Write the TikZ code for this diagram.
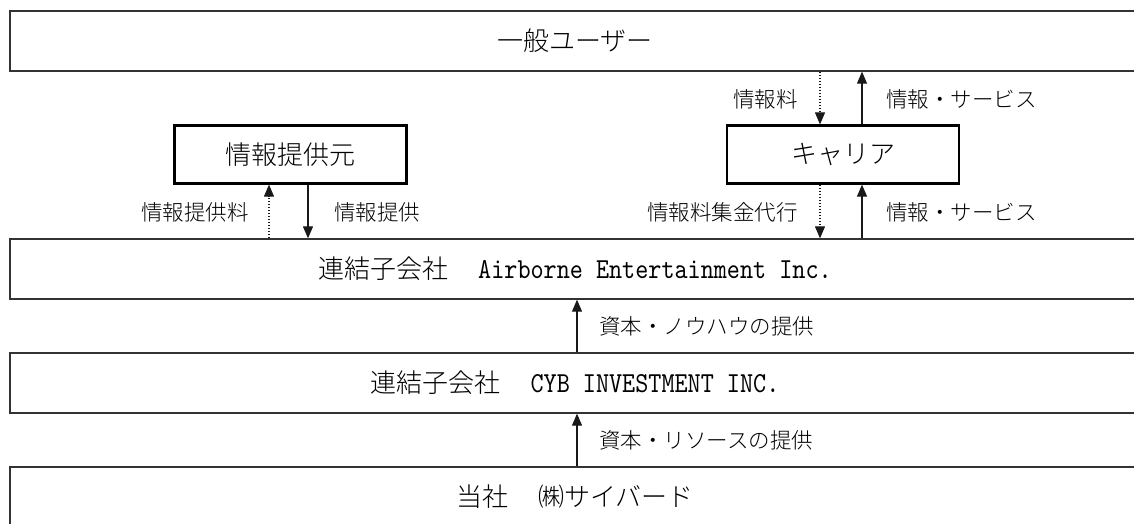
\documentclass[tikz,border=0pt]{standalone}
\usepackage{fontspec}
\setmainfont{Noto Sans CJK JP}[UprightFont=* Light]
\newfontfamily\lat{lmmono10-regular.otf}[FakeStretch=0.86]
\usetikzlibrary{arrows.meta,calc}
\begin{document}
\begin{tikzpicture}[x=1pt,y=-1pt,
  wide/.style={draw=black!80, line width=1.3pt, minimum width=1130pt, minimum height=60pt, inner sep=0pt, font=\fontsize{26}{30}\selectfont},
  small/.style={draw=black, line width=2.2pt, minimum width=232pt, minimum height=58pt, inner sep=0pt, font=\fontsize{26}{30}\selectfont},
  lbl/.style={inner sep=0pt, font=\fontsize{21.5}{24}\selectfont},
  conn/.style={line width=1.1pt, draw=black!90, -{Triangle[width=10pt,length=12pt]}},
  dotconn/.style={conn, dash pattern=on 1.5pt off 1.5pt}
]
\useasboundingbox (0,0) rectangle (1134,523);
\node[wide] (user) at (575,41) {一般ユーザー};
\node[small] (info) at (290.5,154.5) {情報提供元};
\node[small] (carrier) at (843,154.5) {キャリア};
\node[wide] (ab) at (575,269) {連結子会社\hspace{30pt}{\fontsize{29}{30}\selectfont\lat Airborne Entertainment Inc.}};
\node[wide] (cyb) at (575,383) {連結子会社\hspace{30pt}{\fontsize{29}{30}\selectfont\lat CYB INVESTMENT INC.}};
\node[wide] (self) at (575,497) {当社\hspace{30pt}㈱サイバード};
\coordinate (xa) at (269,0);
\coordinate (xb) at (308,0);
\coordinate (xc) at (820,0);
\coordinate (xd) at (862,0);
\coordinate (xe) at (577,0);
\draw[dotconn] (ab.north -| xa) -- (info.south -| xa);
\draw[conn] (info.south -| xb) -- (ab.north -| xb);
\draw[dotconn] (user.south -| xc) -- (carrier.north -| xc);
\draw[conn] (carrier.north -| xd) -- (user.south -| xd);
\draw[dotconn] (carrier.south -| xc) -- (ab.north -| xc);
\draw[conn] (ab.north -| xd) -- (carrier.south -| xd);
\draw[conn] (cyb.north -| xe) -- (ab.south -| xe);
\draw[conn] (self.north -| xe) -- (cyb.south -| xe);
\node[lbl, anchor=east] (l1) at (249,212) {情報提供料};
\node[lbl, anchor=west] (l2) at (334,212) {情報提供};
\node[lbl, anchor=east] (l3) at (798,99) {情報料};
\node[lbl, anchor=west] (l4) at (886,99) {情報・サービス};
\node[lbl, anchor=east] (l5) at (798,212) {情報料集金代行};
\node[lbl, anchor=west] (l6) at (886,212) {情報・サービス};
\node[lbl, anchor=west] (l7) at (599,326) {資本・ノウハウの提供};
\node[lbl, anchor=west] (l8) at (599,440) {資本・リソースの提供};
\end{tikzpicture}
\end{document}
